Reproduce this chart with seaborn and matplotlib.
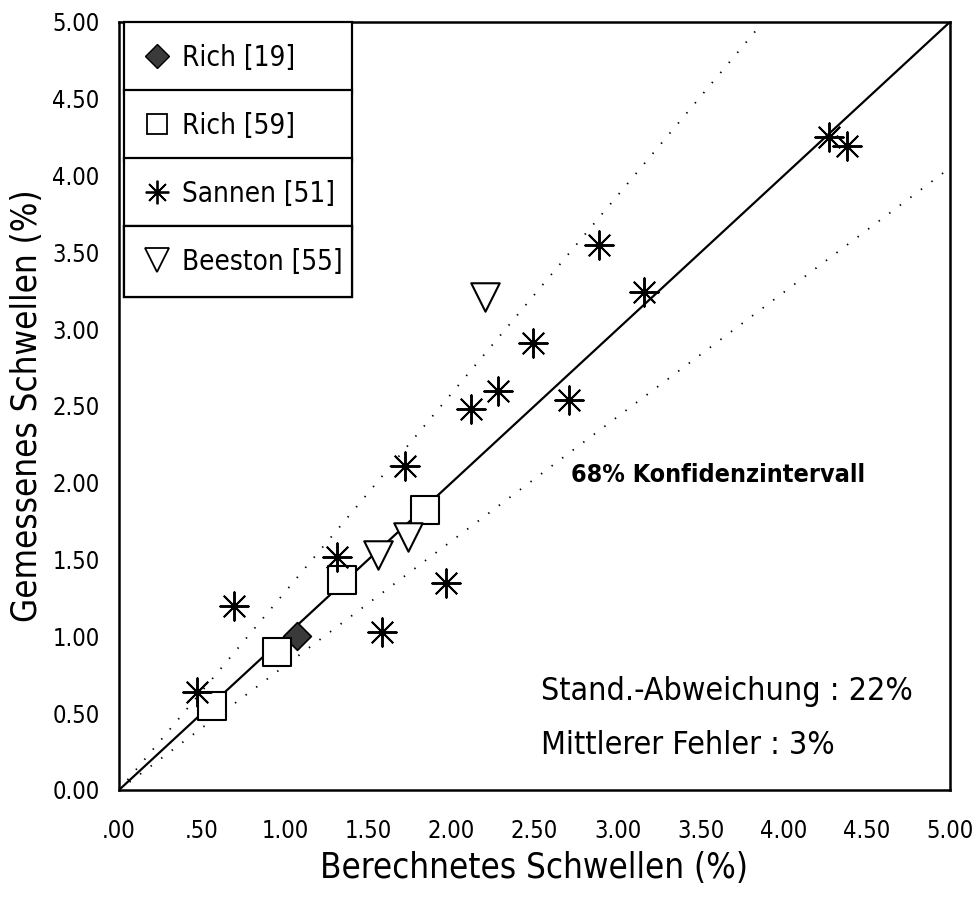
import matplotlib
matplotlib.use("Agg")
import matplotlib.pyplot as plt
import seaborn as sns
import pandas as pd

# Measured vs. calculated swelling (%) per data source
rich19_calc = [1.07]
rich19_meas = [1.00]

rich59_calc = [0.56, 0.95, 1.34, 1.84]
rich59_meas = [0.55, 0.90, 1.37, 1.82]

sannen_calc = [0.47, 0.69, 1.31, 1.58, 1.72, 1.97, 2.12, 2.28, 2.49, 2.71, 2.89, 3.16, 4.27, 4.38]
sannen_meas = [0.64, 1.20, 1.52, 1.03, 2.11, 1.35, 2.48, 2.60, 2.91, 2.54, 3.55, 3.24, 4.25, 4.19]

beeston_calc = [1.56, 1.74, 2.20]
beeston_meas = [1.53, 1.65, 3.21]

series_labels = ["Rich [19]", "Rich [59]", "Sannen [51]", "Beeston [55]"]

x_ticks = [0.0, 0.5, 1.0, 1.5, 2.0, 2.5, 3.0, 3.5, 4.0, 4.5, 5.0]
x_tick_labels = [".00", ".50", "1.00", "1.50", "2.00", "2.50", "3.00", "3.50", "4.00", "4.50", "5.00"]
y_ticks = [0.0, 0.5, 1.0, 1.5, 2.0, 2.5, 3.0, 3.5, 4.0, 4.5, 5.0]
y_tick_labels = ["0.00", "0.50", "1.00", "1.50", "2.00", "2.50", "3.00", "3.50", "4.00", "4.50", "5.00"]

# Slopes of the 68 % confidence band around the identity line
band_upper = 1.29
band_lower = 0.81

sns.set_theme(style="white")
plt.rcParams["font.family"] = ["DejaVu Sans"]
plt.rcParams["font.stretch"] = "condensed"
plt.rcParams["text.color"] = "black"

fig = plt.figure(figsize=(9.76, 8.97), dpi=100)
ax = fig.add_axes([0.1219, 0.1193, 0.8514, 0.8562])

# identity and confidence band
ax.axline((0, 0), slope=1.0, color="black", lw=1.6, zorder=1)
ax.axline((0, 0), slope=band_upper, color="black", lw=1.3, ls=(0, (0.8, 6.5)), zorder=1)
ax.axline((0, 0), slope=band_lower, color="black", lw=1.3, ls=(0, (0.8, 6.5)), zorder=1)

df19 = pd.DataFrame({"calc": rich19_calc, "meas": rich19_meas})
df59 = pd.DataFrame({"calc": rich59_calc, "meas": rich59_meas})
dfs = pd.DataFrame({"calc": sannen_calc, "meas": sannen_meas})
dfb = pd.DataFrame({"calc": beeston_calc, "meas": beeston_meas})

sns.scatterplot(data=df19, x="calc", y="meas", ax=ax, marker="D", s=200,
                facecolor="#3a3a3a", edgecolor="black", linewidth=1.2, zorder=3)
sns.scatterplot(data=df59, x="calc", y="meas", ax=ax, marker="s", s=420,
                facecolor="white", edgecolor="black", linewidth=1.5, zorder=3)
sns.scatterplot(data=dfs, x="calc", y="meas", ax=ax, marker=(8, 2, 0), s=420,
                color="black", linewidth=1.4, zorder=3)
sns.scatterplot(data=dfb, x="calc", y="meas", ax=ax, marker="v", s=420,
                facecolor="white", edgecolor="black", linewidth=1.5, zorder=3)

ax.set_xlim(0, 5)
ax.set_ylim(0, 5)
ax.set_xticks(x_ticks)
ax.set_xticklabels(x_tick_labels)
ax.set_yticks(y_ticks)
ax.set_yticklabels(y_tick_labels)
ax.tick_params(axis="both", which="both", direction="out", length=9, width=1.3,
               color="black", labelsize=17, labelcolor="black", pad=5)
ax.tick_params(axis="x", length=11, pad=10)
for sp in ax.spines.values():
    sp.set_visible(True)
    sp.set_color("black")
    sp.set_linewidth(1.8)
ax.grid(False)

ax.set_xlabel("Berechnetes Schwellen (%)", fontsize=25, labelpad=6, color="black")
ax.set_ylabel("Gemessenes Schwellen (%)", fontsize=25, labelpad=6, color="black")

# annotations
ax.text(2.72, 2.05, "68% Konfidenzintervall", fontsize=18, fontweight="bold",
        ha="left", va="center", color="black")
ax.text(2.54, 0.64, "Stand.-Abweichung : 22%", fontsize=23, ha="left", va="center", color="black")
ax.text(2.54, 0.29, "Mittlerer Fehler : 3%", fontsize=23, ha="left", va="center", color="black")

# stacked single-entry legend boxes
handle_specs = [
    dict(marker="D", markersize=12, markerfacecolor="#3a3a3a", markeredgecolor="black", markeredgewidth=1.0),
    dict(marker="s", markersize=15, markerfacecolor="white", markeredgecolor="black", markeredgewidth=1.3),
    dict(marker=(8, 2, 0), markersize=17, color="black", markeredgewidth=1.3),
    dict(marker="v", markersize=17, markerfacecolor="white", markeredgecolor="black", markeredgewidth=1.3),
]
box_h = 0.0885
for i, (lab, spec) in enumerate(zip(series_labels, handle_specs)):
    h = plt.Line2D([], [], linestyle="none", **spec)
    leg = ax.legend([h], [lab], loc="upper left",
                    bbox_to_anchor=(0.006, 1.0 - (i + 1) * box_h, 0.274, box_h),
                    mode="expand", frameon=True, fancybox=False, framealpha=1,
                    edgecolor="black", fontsize=20, labelcolor="black",
                    handlelength=0.8, handletextpad=0.5, borderpad=0.78,
                    borderaxespad=0.0)
    leg.get_frame().set_linewidth(1.6)
    ax.add_artist(leg)

fig.savefig("out.png", dpi=100, facecolor="white")
